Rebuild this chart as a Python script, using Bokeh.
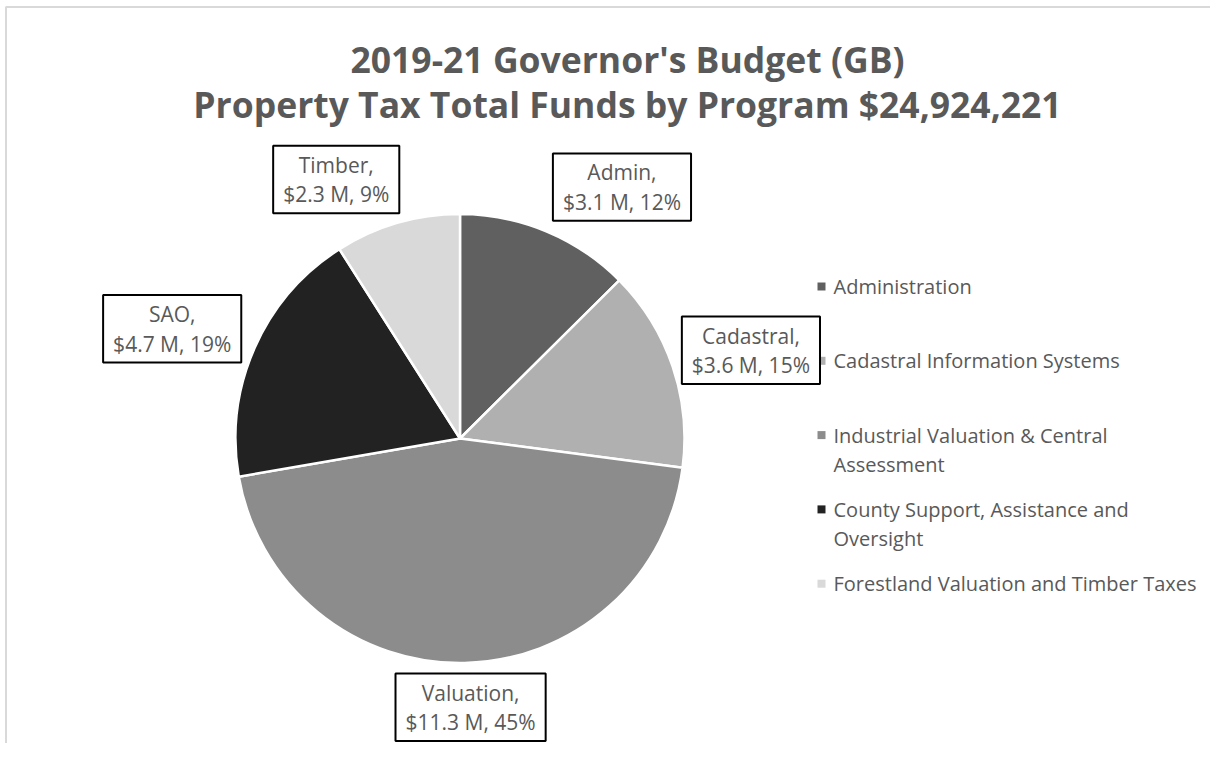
import math
import textwrap
from bokeh.plotting import figure
from bokeh.models import Range1d, Label, ColumnDataSource
from bokeh.core.properties import value
from bokeh.embed import file_html
from bokeh.resources import INLINE

# ---------------- data ----------------
title_lines = ["2019-21 Governor's Budget (GB)",
               "Property Tax Total Funds by Program $24,924,221"]
programs = ["Administration",
            "Cadastral Information Systems",
            "Industrial Valuation & Central Assessment",
            "County Support, Assistance and Oversight",
            "Forestland Valuation and Timber Taxes"]
short_names = ["Admin", "Cadastral", "Valuation", "SAO", "Timber"]
amounts_m = [3.13, 3.62, 11.27, 4.66, 2.25]
label_amounts = ["$3.1 M", "$3.6 M", "$11.3 M", "$4.7 M", "$2.3 M"]
label_pcts = ["12%", "15%", "45%", "19%", "9%"]
colors = ["#606060", "#b0b0b0", "#8c8c8c", "#222222", "#d9d9d9"]

# ---------------- layout / style ----------------
W, H = 1210, 743
PAGE_H = 759
FONT = "Open Sans"
TXT = "#595959"
CX, CY = 459.5, PAGE_H - 438   # pie centre (data units == pixels)
R = 224.5
label_dist = [299, 304, 269, 308, 287]
label_nudge_deg = [10.2, 1.8, -1.1, -3.0, -9.3]

p = figure(width=W, height=H, output_backend="svg", toolbar_location=None,
           x_range=Range1d(0, W), y_range=Range1d(PAGE_H - H, PAGE_H),
           min_border=0)
p.axis.visible = False
p.grid.visible = False
p.outline_line_color = None
p.background_fill_color = "white"
p.border_fill_color = "white"

# chart-area border (top and left visible)
p.line(x=[5.5, 5.5, W], y=[0, PAGE_H - 6.5, PAGE_H - 6.5], line_color="#d9d9d9", line_width=2)

# ---------------- pie ----------------
total = sum(amounts_m)
fracs = [a / total for a in amounts_m]
cum = [0.0]
for f in fracs:
    cum.append(cum[-1] + f)
starts = [math.pi / 2 - 2 * math.pi * cum[i + 1] for i in range(len(fracs))]
ends = [math.pi / 2 - 2 * math.pi * cum[i] for i in range(len(fracs))]
src = ColumnDataSource(dict(start=starts, end=ends, color=colors, name=programs))
p.wedge(x=CX, y=CY, radius=R, start_angle="start", end_angle="end",
        direction="anticlock", fill_color="color", line_color="white",
        line_width=2.5, source=src)

# ---------------- data labels ----------------
for i, f in enumerate(fracs):
    mid = 360 * (cum[i] + f / 2) + label_nudge_deg[i]
    a = math.radians(mid)
    lx = CX + label_dist[i] * math.sin(a)
    ly = CY + label_dist[i] * math.cos(a)
    p.add_layout(Label(x=lx, y=ly,
                       text=f"{short_names[i]},\n{label_amounts[i]}, {label_pcts[i]}",
                       text_align="center", text_baseline="middle",
                       text_font=FONT, text_font_size="21px", text_color=TXT,
                       text_line_height=1.05,
                       background_fill_color="white",
                       border_line_color="black", border_line_width=2,
                       padding=dict(left=10, right=10, top=5, bottom=5)))

# ---------------- title ----------------
p.text(x=[627, 627], y=[PAGE_H - 58, PAGE_H - 103], text=title_lines,
       text_align="center", text_baseline="middle", text_font=value(FONT),
       text_font_size="35.5px", text_font_style="bold", text_color=TXT)

# ---------------- legend ----------------
LEG_X, LEG_Y0, LEG_DY, LINE_DY = 821, 286, 74.3, 29
mx, my, tx, ty, tt = [], [], [], [], []
for i, name in enumerate(programs):
    row = PAGE_H - (LEG_Y0 + i * LEG_DY)
    mx.append(LEG_X)
    my.append(row)
    for j, line in enumerate(textwrap.wrap(name, width=37)):
        tx.append(LEG_X + 12)
        ty.append(row - j * LINE_DY)
        tt.append(line)
p.scatter(x=mx, y=my, marker="square", size=8, fill_color=colors, line_color=None)
p.text(x=tx, y=ty, text=tt, text_align="left", text_baseline="middle",
       text_font=value(FONT), text_font_size="20px", text_color=TXT)

open("out.html", "w").write(file_html(p, INLINE))
